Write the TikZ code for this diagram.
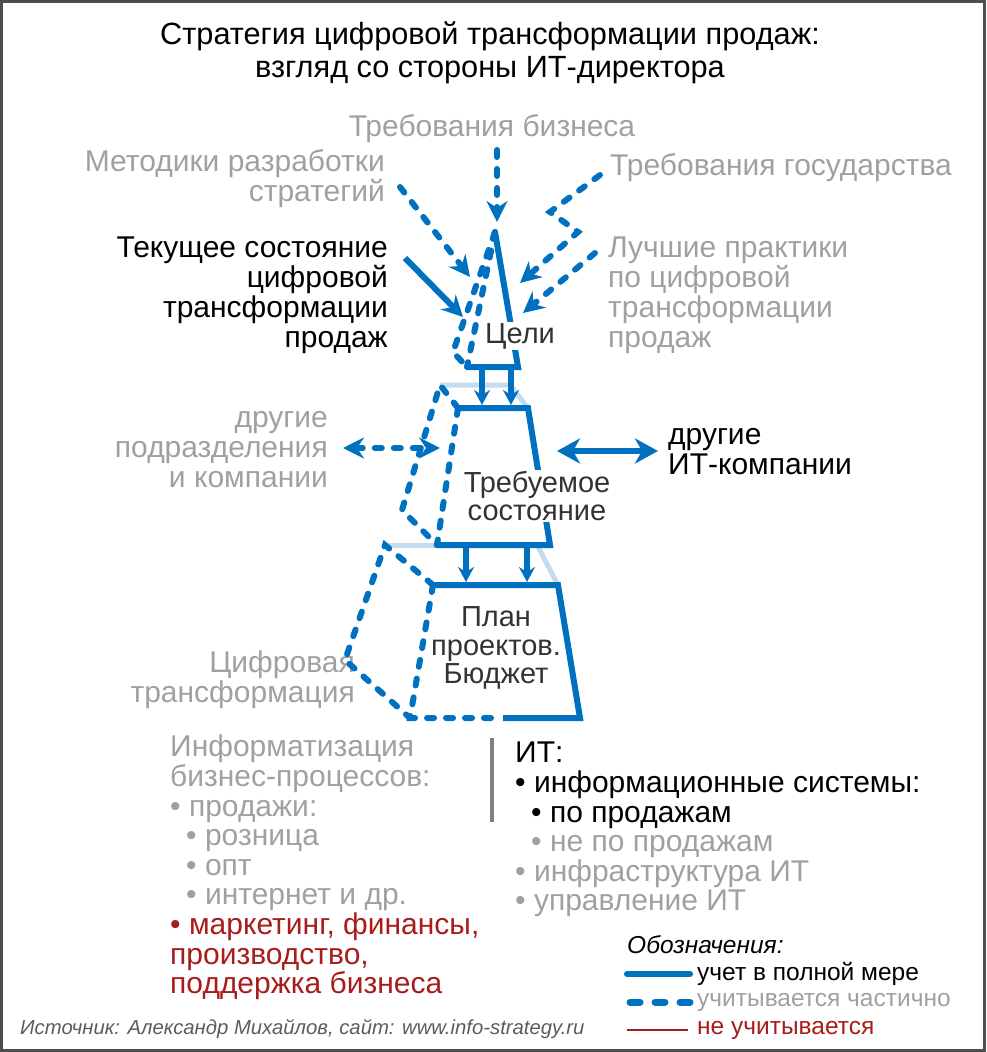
\documentclass[tikz,border=0pt]{standalone}
\usepackage{fontspec}
\setmainfont{Liberation Sans}
\usetikzlibrary{arrows.meta}
\definecolor{itblue}{RGB}{0,112,192}
\definecolor{itpale}{RGB}{197,220,240}
\definecolor{itgray}{RGB}{160,160,160}
\definecolor{itred}{RGB}{168,28,28}
\definecolor{itdark}{RGB}{51,51,51}
\definecolor{itframe}{RGB}{77,77,77}
\setlength{\lineskiplimit}{-20pt}
\begin{document}
\begin{tikzpicture}[x=1pt,y=-1pt,>={Stealth[length=21pt,width=21pt,inset=7pt]},
		full/.style={draw=itblue,line width=6pt},
		part/.style={draw=itblue,line width=6pt,line cap=round,dash pattern=on 7pt off 12pt},
		pale/.style={draw=itpale,line width=5pt},
		small/.style={-{Stealth[length=15pt,width=16pt,inset=5pt]}},
		lbl/.style={inner sep=0pt,font=\fontsize{30}{30}\selectfont},
		box/.style={inner sep=1pt,text=itdark,fill=white,align=center,
			font=\fontsize{29}{28.5}\selectfont},
		lst/.style={inner sep=0pt,anchor=north west,align=left,
			font=\fontsize{30}{29.6}\selectfont},
		leg/.style={inner sep=0pt,anchor=west,font=\fontsize{24.5}{28}\selectfont}]
	\useasboundingbox (0,0) rectangle (986,1052);
	\draw[itframe,line width=3pt] (1.5,1.5) rectangle (984.5,1050.5);
	% title
	\node[lbl,align=center,font=\fontsize{30.7}{33}\selectfont] (title) at (490,53)
		{Стратегия цифровой трансформации продаж:\\взгляд со стороны ИТ-директора};
	% inputs
	\node[lbl,text=itgray] (bizreq) at (492,129) {Требования бизнеса};
	\node[lbl,text=itgray,align=right,anchor=east] (method) at (385,179) {Методики разработки\\стратегий};
	\node[lbl,text=itgray,anchor=west] (govreq) at (610,168) {Требования государства};
	\node[lbl,align=right,anchor=east] (curstate) at (388,295) {Текущее состояние\\цифровой\\трансформации\\продаж};
	\node[lbl,text=itgray,align=left,anchor=west] (bestpr) at (608,295) {Лучшие практики\\по цифровой\\трансформации\\продаж};
	\node[lbl,text=itgray,align=right,anchor=east] (othdept) at (328,450) {другие\\подразделения\\и компании};
	\node[lbl,align=left,anchor=west] (othit) at (668,452) {другие\\ИТ-компании};
	\node[lbl,text=itgray,align=right,anchor=east] (digtr) at (355,680) {Цифровая\\трансформация};
	% corners of the three levels
	\coordinate (apex) at (495,232);
	\coordinate (g1o) at (453,352);
	\coordinate (g1l) at (467,367);
	\coordinate (g1r) at (518,367);
	\coordinate (t2o) at (440,385);
	\coordinate (t2p) at (510,385);
	\coordinate (t2l) at (458,408);
	\coordinate (t2r) at (528,408);
	\coordinate (t2w) at (402,510);
	\coordinate (t2bl) at (437,545);
	\coordinate (t2br) at (550,545);
	\coordinate (p3o) at (385,545);
	\coordinate (p3p) at (537,545);
	\coordinate (p3l) at (433,585);
	\coordinate (p3r) at (558,585);
	\coordinate (p3w) at (345,660);
	\coordinate (p3bl) at (410,718);
	\coordinate (p3bm) at (503,718);
	\coordinate (p3br) at (580,718);
	% pale outline
	\draw[pale] (t2o) -- (t2p) -- (t2r);
	\draw[pale] (p3o) -- (t2bl);
	\draw[pale] (p3p) -- (p3r);
	% partly
	\draw[part] (apex) -- (g1o) -- (g1l);
	\draw[part] (apex) -- (g1l);
	\draw[part] (t2l) -- (t2o) -- (t2w) -- (t2bl);
	\draw[part] (t2l) -- (t2bl);
	\draw[part] (p3l) -- (p3o) -- (p3w) -- (p3bl);
	\draw[part] (p3l) -- (p3bl) -- (p3bm);
	% fully
	\draw[full] (apex) -- (g1r) -- (g1l);
	\draw[full] (t2l) -- (t2r) -- (t2br) -- (t2bl);
	\draw[full] (p3l) -- (p3r) -- (p3br) -- (p3bm);
	\draw[full,small] (482,367) -- (482,405);
	\draw[full,small] (511,367) -- (511,405);
	\draw[full,small] (466,545) -- (466,582);
	\draw[full,small] (527,545) -- (527,582);
	\node[box] (goals) at (520,336) {Цели};
	\node[box] (target) at (537,496) {Требуемое\\состояние};
	\node[box,fill=none] (plan) at (496,648) {План\\проектов.\\Бюджет};
	% arrows into the goals
	\coordinate (bizs) at (497,150);
	\coordinate (bize) at (497,222);
	\coordinate (meths) at (400,187);
	\coordinate (methe) at (470,277);
	\coordinate (govs) at (600,175);
	\coordinate (gov1) at (550,212);
	\coordinate (gov2) at (578,232);
	\coordinate (gove) at (520,283);
	\coordinate (bests) at (595,253);
	\coordinate (beste) at (523,313);
	\coordinate (curs) at (405,258);
	\coordinate (cure) at (463,317);
	\draw[part,->] (bizs) -- (bize);
	\draw[part,->] (meths) -- (methe);
	\draw[part,->] (govs) -- (gov1) -- (gov2) -- (gove);
	\draw[part,->] (bests) -- (beste);
	\draw[full,->] (curs) -- (cure);
	% exchange
	\coordinate (deptl) at (343,448);
	\coordinate (deptr) at (440,448);
	\coordinate (itl) at (557,451);
	\coordinate (itr) at (658,451);
	\draw[part,<->] (deptl) -- (deptr);
	\draw[full,{Stealth[length=23pt,width=25pt,inset=7pt]}-{Stealth[length=23pt,width=25pt,inset=7pt]}] (itl) -- (itr);
	% lists
	\node[lst,text=itgray] (bizlist) at (170,735) {Информатизация\\бизнес-процессов:\\• продажи:\\
		\hspace*{16pt}• розница\\\hspace*{16pt}• опт\\\hspace*{16pt}• интернет и др.\\
		\color{itred}• маркетинг, финансы,\\\color{itred}производство,\\\color{itred}поддержка бизнеса};
	\draw[itgray!80!black,line width=4pt] (492,738) -- (492,822);
	\node[lst] (itlist) at (515,742) {ИТ:\\• информационные системы:\\\hspace*{16pt}• по продажам\\
		\hspace*{16pt}\color{itgray}• не по продажам\\\color{itgray}• инфраструктура ИТ\\\color{itgray}• управление ИТ};
	% legend
	\node[leg,font=\fontsize{24.5}{28}\itshape] (legtitle) at (627,945) {Обозначения:};
	\coordinate (lf1) at (627,974);
	\coordinate (lf2) at (690,974);
	\coordinate (lp1) at (630,1002);
	\coordinate (lp2) at (690,1002);
	\coordinate (ln1) at (627,1030);
	\coordinate (ln2) at (688,1030);
	\draw[full,line cap=round] (lf1) -- (lf2);
	\draw[itblue,line width=7pt,line cap=round,dash pattern=on 10pt off 15pt] (lp1) -- (lp2);
	\draw[itred,line width=2pt] (ln1) -- (ln2);
	\node[leg] (legfull) at (697,974) {учет в полной мере};
	\node[leg,text=itgray] (legpart) at (697,1002) {учитывается частично};
	\node[leg,text=itred] (legnone) at (697,1030) {не учитывается};
	\node[leg,text=itdark!80!white,font=\fontsize{20.3}{24}\itshape] (source) at (20,1029)
		{Источник: Александр Михайлов, сайт: www.info-strategy.ru};
\end{tikzpicture}
\end{document}
